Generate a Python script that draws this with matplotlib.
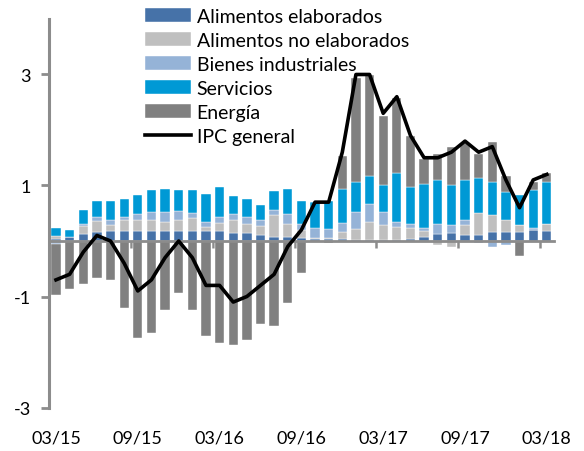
import matplotlib
matplotlib.use("Agg")
import matplotlib.pyplot as plt
import numpy as np
import pandas as pd

plt.rcParams['font.family'] = ['Lato', 'DejaVu Sans']
plt.rcParams['axes.unicode_minus'] = False

months = pd.date_range('2015-03-01', periods=37, freq='MS')
tick_every = 6

alim_elab = [0.03, 0.08, 0.12, 0.16, 0.18, 0.18, 0.18, 0.18, 0.18, 0.18, 0.18, 0.18, 0.18,
             0.14, 0.14, 0.11, 0.08, 0.08, 0.05, 0.03, 0.03, 0.04, 0.02, 0.01, 0.01, 0.01,
             0.04, 0.08, 0.12, 0.15, 0.11, 0.11, 0.16, 0.16, 0.16, 0.19, 0.18]
alim_no_elab = [0.06, 0.00, 0.15, 0.20, 0.10, 0.19, 0.20, 0.19, 0.17, 0.20, 0.23, 0.07, 0.14,
                0.23, 0.17, 0.16, 0.38, 0.23, 0.14, 0.02, 0.03, 0.12, 0.20, 0.33, 0.27, 0.24,
                0.20, 0.10, -0.07, -0.10, 0.17, 0.39, 0.31, 0.21, 0.12, 0.00, 0.13]
bienes_ind = [-0.05, 0.00, 0.04, 0.08, 0.09, 0.06, 0.10, 0.16, 0.18, 0.16, 0.09, 0.10, 0.12,
              0.12, 0.12, 0.10, 0.10, 0.18, 0.12, 0.18, 0.16, 0.16, 0.30, 0.32, 0.24, 0.09,
              0.07, 0.05, 0.19, 0.13, 0.09, -0.03, -0.10, -0.08, 0.00, 0.04, 0.00]
servicios = [0.15, 0.12, 0.25, 0.28, 0.35, 0.32, 0.34, 0.38, 0.41, 0.37, 0.42, 0.50, 0.54,
             0.32, 0.32, 0.28, 0.34, 0.45, 0.41, 0.47, 0.50, 0.62, 0.54, 0.51, 0.48, 0.89,
             0.66, 0.80, 0.78, 0.72, 0.73, 0.63, 0.59, 0.51, 0.54, 0.69, 0.75]
energia = [-0.92, -0.87, -0.77, -0.67, -0.70, -1.21, -1.75, -1.66, -1.24, -0.93, -1.24, -1.72, -1.84,
           -1.87, -1.78, -1.49, -1.53, -1.11, -0.57, 0.00, -0.04, 0.60, 1.88, 1.82, 1.25, 1.34,
           0.92, 0.45, 0.48, 0.69, 0.67, 0.44, 0.72, 0.29, -0.27, 0.15, 0.16]
ipc_general = [-0.7, -0.6, -0.2, 0.1, 0.0, -0.4, -0.9, -0.7, -0.3, 0.0, -0.3, -0.8, -0.8,
               -1.1, -1.0, -0.8, -0.6, -0.1, 0.2, 0.7, 0.7, 1.6, 3.0, 3.0, 2.3, 2.6,
               1.9, 1.5, 1.5, 1.6, 1.8, 1.6, 1.7, 1.1, 0.6, 1.1, 1.2]

series = [
    ("Alimentos elaborados", alim_elab, "#4672A8"),
    ("Alimentos no elaborados", alim_no_elab, "#BFBFBF"),
    ("Bienes industriales", bienes_ind, "#95B3D7"),
    ("Servicios", servicios, "#0099D5"),
    ("Energía", energia, "#808080"),
]

axis_gray = "#8C8C8C"

fig = plt.figure(figsize=(5.84, 4.52), dpi=100)
ax = fig.add_axes([0.0842, 0.0962, 0.8638, 0.8596])

x = np.arange(len(months))
pos_bottom = np.zeros(len(x))
neg_bottom = np.zeros(len(x))
handles = []
for name, vals, col in series:
    v = np.array(vals, dtype=float)
    bottom = np.where(v >= 0, pos_bottom, neg_bottom)
    h = ax.bar(x, v, width=0.68, bottom=bottom, color=col, label=name,
               edgecolor='white', linewidth=0.3, zorder=2)
    handles.append(h)
    pos_bottom = pos_bottom + np.where(v >= 0, v, 0)
    neg_bottom = neg_bottom + np.where(v < 0, v, 0)

line, = ax.plot(x, ipc_general, color='black', lw=2.6, label='IPC general', zorder=5)
handles.append(line)

ax.set_xlim(-0.5, len(x) - 0.5)
ax.set_ylim(-3, 4)

# y axis
ax.set_yticks([-3, -1, 1, 3])
ax.tick_params(axis='y', direction='out', length=6, width=2, color=axis_gray,
               labelsize=13, pad=7)
ax.spines['left'].set_color(axis_gray)
ax.spines['left'].set_linewidth(2.2)
ax.spines['top'].set_visible(False)
ax.spines['right'].set_visible(False)

# horizontal axis at zero with tick marks at category boundaries
ax.spines['bottom'].set_position(('data', 0))
ax.spines['bottom'].set_color(axis_gray)
ax.spines['bottom'].set_linewidth(2.0)
ax.spines['bottom'].set_zorder(4)
ax.set_xticks(x[::tick_every][1:] - 0.5)
ax.set_xticklabels([])
ax.tick_params(axis='x', direction='out', length=5, width=1.8, color=axis_gray)

# category labels at the bottom
sec = ax.secondary_xaxis(0.0)
sec.set_xticks(x[::tick_every])
sec.set_xticklabels([m.strftime('%m/%y') for m in months[::tick_every]])
sec.tick_params(axis='x', length=0, labelsize=13, pad=16)
sec.spines['bottom'].set_visible(False)

leg = ax.legend(handles=handles, loc='upper left', bbox_to_anchor=(0.235, 0.998),
                bbox_transform=fig.transFigure,
                frameon=False, fontsize=14, handlelength=2.37, handleheight=0.72,
                handletextpad=0.28, labelspacing=0.36, borderaxespad=0)

fig.savefig('out.png', dpi=100)
